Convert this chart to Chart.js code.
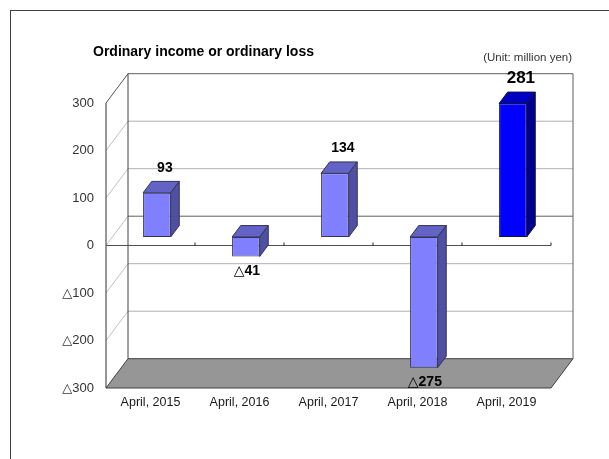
<!DOCTYPE html>
<html>
<head>
<meta charset="utf-8">
<script src="https://cdn.jsdelivr.net/npm/chart.js@4.4.1/dist/chart.umd.min.js"></script>
<style>
  body { margin: 0; overflow: hidden; background: #fff; }
  #wrap { position: relative; width: 609px; height: 459px; overflow: hidden; }
  #frame { position: absolute; left: 10px; top: 10px; width: 700px; height: 600px; border: 1px solid #404040; }
  #myChart { position: absolute; left: 0; top: 0; }
</style>
</head>
<body>
<div id="wrap">
  <div id="frame"></div>
  <canvas id="myChart" width="609" height="459"></canvas>
</div>
<script>
// data
let categories = ["April, 2015", "April, 2016", "April, 2017", "April, 2018", "April, 2019"];
let incomeValues = [93, -41, 134, -275, 281];
let tickValues = [300, 200, 100, 0, -100, -200, -300];

let chartTitle = "Ordinary income or ordinary loss";
let unitText = "(Unit: million yen)";

// 3d look
const WALL_DX = 22, WALL_DY = -29.3;       // depth of the back wall
const BAR_FRONT = 0.29, BAR_DEPTH = 0.39;  // bar position inside the depth
const FONT = "'Liberation Sans', 'DejaVu Sans', sans-serif";
const last = incomeValues.length - 1;

function fmt(v) {
  return v < 0 ? "\u25B3" + Math.abs(v) : String(v);
}

function poly(ctx, pts, fill, stroke) {
  ctx.beginPath();
  ctx.moveTo(pts[0][0], pts[0][1]);
  for (let i = 1; i < pts.length; i++) ctx.lineTo(pts[i][0], pts[i][1]);
  ctx.closePath();
  if (fill) { ctx.fillStyle = fill; ctx.fill(); }
  if (stroke) { ctx.strokeStyle = stroke; ctx.lineWidth = 1; ctx.stroke(); }
}

function line(ctx, x1, y1, x2, y2, color) {
  ctx.beginPath();
  ctx.moveTo(x1, y1);
  ctx.lineTo(x2, y2);
  ctx.strokeStyle = color;
  ctx.lineWidth = 1;
  ctx.stroke();
}

let walls3d = {
  id: "walls3d",
  beforeDatasetsDraw(chart) {
    const { ctx, chartArea: a, scales: { x, y } } = chart;
    const yTop = y.getPixelForValue(y.max), yBot = y.getPixelForValue(y.min);
    ctx.save();
    // floor
    poly(ctx, [[a.left, yBot], [a.right, yBot], [a.right + WALL_DX, yBot + WALL_DY], [a.left + WALL_DX, yBot + WALL_DY]], "#969696", "#404040");
    // grid on side and back wall
    y.ticks.forEach(t => {
      if (t.value === y.min) return;
      const py = y.getPixelForValue(t.value);
      const strong = t.value === y.max;
      line(ctx, a.left, py, a.left + WALL_DX, py + WALL_DY, strong ? "#505050" : "#c0c0c0");
      line(ctx, a.left + WALL_DX, py + WALL_DY, a.right + WALL_DX, py + WALL_DY,
        strong || t.value === 0 ? "#606060" : "#b0b0b0");
    });
    // wall edges
    line(ctx, a.left + WALL_DX, yTop + WALL_DY, a.left + WALL_DX, yBot + WALL_DY, "#404040");
    line(ctx, a.right + WALL_DX, yTop + WALL_DY, a.right + WALL_DX, yBot + WALL_DY, "#606060");
    line(ctx, a.left, yTop, a.left, yBot, "#303030");
    // front category axis at zero
    const y0 = y.getPixelForValue(0);
    line(ctx, a.left, y0, a.right, y0, "#505050");
    const half = (x.getPixelForValue(1) - x.getPixelForValue(0)) / 2;
    for (let i = 0; i < categories.length; i++) {
      const bx = x.getPixelForValue(i) + half;
      line(ctx, bx, y0, bx, y0 - 3, "#202020");
    }
    ctx.restore();
    // bars front faces drawn by chart.js, moved into the depth
    ctx.save();
    ctx.translate(WALL_DX * BAR_FRONT, WALL_DY * BAR_FRONT);
  },
  afterDatasetsDraw(chart) {
    const { ctx } = chart;
    ctx.restore();
    const fx = WALL_DX * BAR_FRONT, fy = WALL_DY * BAR_FRONT;
    const dx = WALL_DX * BAR_DEPTH, dy = WALL_DY * BAR_DEPTH;
    const meta = chart.getDatasetMeta(0);
    ctx.save();
    meta.data.forEach((bar, i) => {
      const hi = i === last;
      const l = bar.x - bar.width / 2 + fx, r = bar.x + bar.width / 2 + fx;
      const top = Math.min(bar.y, bar.base) + fy, bot = Math.max(bar.y, bar.base) + fy;
      const edge = hi ? "#101040" : "#333355";
      poly(ctx, [[l, top], [l + dx, top + dy], [r + dx, top + dy], [r, top]], hi ? "#0000C4" : "#6363C6", edge);
      poly(ctx, [[r, top], [r + dx, top + dy], [r + dx, bot + dy], [r, bot]], hi ? "#00008E" : "#5050A2", edge);
    });
    // value labels
    ctx.fillStyle = "#000";
    ctx.textAlign = "center";
    ctx.textBaseline = "middle";
    meta.data.forEach((bar, i) => {
      const v = incomeValues[i];
      ctx.font = (i === last ? "bold 17px " : "bold 14px ") + FONT;
      const cx = bar.x + fx + (v >= 0 ? 8 : 1);
      const cy = v >= 0 ? bar.y + fy - 25 : bar.y + fy + 15;
      ctx.fillText(fmt(v), cx, cy);
    });
    ctx.restore();
  },
  afterDraw(chart) {
    const { ctx } = chart;
    ctx.save();
    ctx.fillStyle = "#000";
    ctx.textBaseline = "middle";
    ctx.textAlign = "left";
    ctx.font = "bold 14px " + FONT;
    ctx.fillText(chartTitle, 93, 52);
    ctx.fillStyle = "#333";
    ctx.textAlign = "right";
    ctx.font = "11.5px " + FONT;
    ctx.fillText(unitText, 572, 58);
    ctx.restore();
  }
};

new Chart("myChart", {
  type: "bar",
  data: {
    labels: categories,
    datasets: [{
      data: incomeValues,
      backgroundColor: ctx => ctx.dataIndex === last ? "#0000FF" : "#8080FF",
      borderColor: ctx => ctx.dataIndex === last ? "#101040" : "#333355",
      borderWidth: 1,
      borderSkipped: false,
      barPercentage: 0.31,
      categoryPercentage: 1
    }]
  },
  options: {
    responsive: false,
    animation: false,
    layout: { padding: { left: 0, right: 58, top: 103, bottom: 0 } },
    plugins: {
      legend: { display: false },
      tooltip: { enabled: false }
    },
    scales: {
      x: {
        grid: { display: false, drawTicks: false },
        border: { display: false },
        ticks: { color: "#1a1a1a", font: { family: FONT, size: 12.5 }, padding: 7, maxRotation: 0 },
        afterFit(scale) { scale.height = 71; }
      },
      y: {
        min: -300,
        max: 300,
        afterBuildTicks(scale) { scale.ticks = tickValues.map(v => ({ value: v })); },
        grid: { display: false, drawTicks: false },
        border: { display: false },
        ticks: { color: "#333", font: { family: FONT, size: 13 }, padding: 12, callback: v => fmt(v) },
        afterFit(scale) { scale.width = 106; }
      }
    }
  },
  plugins: [walls3d]
});
</script>
</body>
</html>
